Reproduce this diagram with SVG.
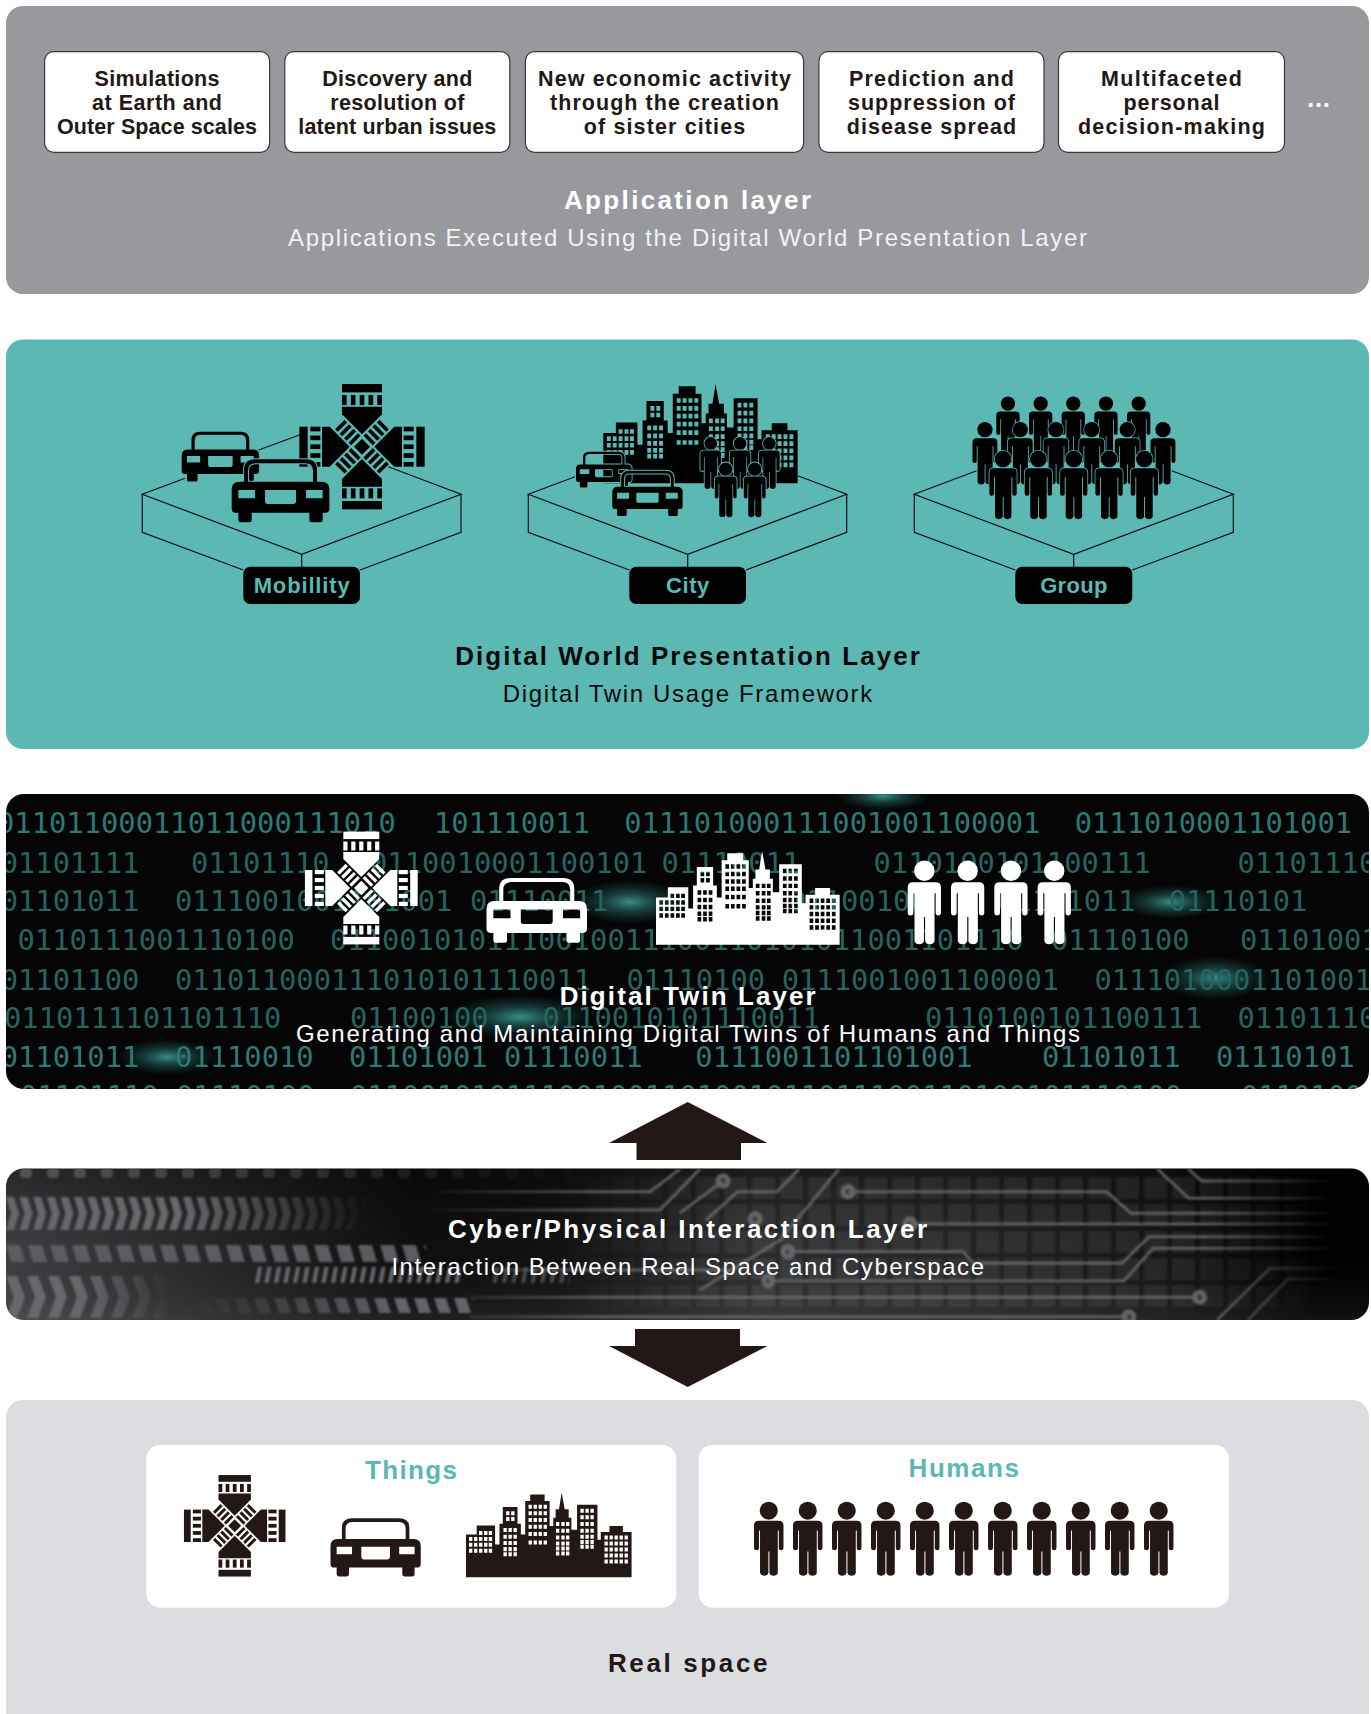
<svg xmlns="http://www.w3.org/2000/svg" width="1371" height="1714" viewBox="0 0 1371 1714">
<style>
text{font-family:"Liberation Sans",Arial,sans-serif;text-anchor:middle}
.b{font-weight:700}
.box{fill:#fff;stroke:#3a3a3c;stroke-width:1.2}
.bt{font-size:21.5px;font-weight:700;fill:#231815}
.plat{fill:none;stroke:#111;stroke-width:1.2}
.lab{font-size:22px;font-weight:700;fill:#5bb8b2}
.ttl{font-size:26px;font-weight:700}
.sub{font-size:24px}
.w{fill:#fff}
.k{fill:#000}
.dk{fill:#231815}
.d{font-family:"DejaVu Sans Mono","Liberation Mono",monospace;font-size:28.8px;text-anchor:start;fill:#2d7a74}
.d2{fill:#25645f}
.cl{fill:none;stroke:#6f7073;stroke-width:2.6}
.nd{fill:none;stroke:#6f7073;stroke-width:5}
.hl{stroke:#5bb8b2;paint-order:stroke}
</style>
<defs>
<filter id="soft" x="-5%" y="-20%" width="110%" height="140%"><feGaussianBlur stdDeviation=".8"/></filter>
<g id="car"><path fill-rule="evenodd" d="M37 67V32Q37 0 70 0H223Q256 0 256 32V67H270Q293 67 293 90V148Q293 160 281 160H273V182Q273 189 266 189H240Q233 189 233 182V160H60V182Q60 189 53 189H27Q20 189 20 182V160H12Q0 160 0 148V90Q0 67 23 67ZM49 67H244V34Q244 12 221 12H72Q49 12 49 34ZM20 92V117H70V92ZM223 92V117H273V92ZM100 92V126Q100 134 108 134H185Q193 134 193 126V92Z"/></g>
<g id="person"><circle cx="44" cy="26" r="27"/><path d="M14 56H74Q88 56 88 70V137A7 7 0 0 1 74 137V85H71V212A13 11 0 0 1 46 212V148H43V212A13 11 0 0 1 18 212V85H15V137A7.5 7 0 0 1 0 137V70Q0 56 14 56Z"/></g>
<g id="arm"><rect x="-60" y="-188" width="120" height="25"/><rect x="-60" y="-155" width="14" height="30"/><rect x="-33.5" y="-155" width="14" height="30"/><rect x="-7" y="-155" width="14" height="30"/><rect x="19.5" y="-155" width="14" height="30"/><rect x="46" y="-155" width="14" height="30"/><polygon points="-60,-120 60,-120 60,-97 0,-37 -60,-97"/><g transform="rotate(45)"><rect x="-20" y="-94" width="40" height="11"/><rect x="-20" y="-75" width="40" height="11"/><rect x="-20" y="-56" width="40" height="11"/><rect x="-20" y="-37" width="40" height="11"/></g></g>
<g id="cross"><use href="#arm"/><use href="#arm" transform="rotate(90)"/><use href="#arm" transform="rotate(180)"/><use href="#arm" transform="rotate(270)"/><rect x="-17" y="-17" width="34" height="34" transform="rotate(45)"/></g>
<g id="city"><path transform="translate(-18 -22)" fill-rule="evenodd" d="M18 275V147H50V120H105V177H118V115H128V65H172V115H182V147H195V47H210V28H253V47H268V122H279V97H286V72H296L304 22L313 72H325V97H333V133H350V58H411V163H421V140H447V122H487V140H513V275Z
M57 137h10v12h-10zM72 137h10v12h-10zM86 137h10v12h-10zM27 155h10v12h-10zM42 155h10v12h-10zM57 155h10v12h-10zM72 155h10v12h-10zM86 155h10v12h-10zM27 172h10v12h-10zM42 172h10v12h-10zM57 172h10v12h-10zM72 172h10v12h-10zM86 172h10v12h-10zM27 190h10v12h-10zM42 190h10v12h-10zM57 190h10v12h-10zM72 190h10v12h-10zM86 190h10v12h-10z
M138 78h10v12h-10zM153 78h10v12h-10zM138 95h10v12h-10zM153 95h10v12h-10z
M130 128h10v12h-10zM145 128h10v12h-10zM160 128h10v12h-10zM130 148h10v12h-10zM145 148h10v12h-10zM160 148h10v12h-10zM130 167h10v12h-10zM145 167h10v12h-10zM160 167h10v12h-10zM130 185h10v12h-10zM145 185h10v12h-10zM160 185h10v12h-10zM130 200h10v12h-10zM145 200h10v12h-10zM160 200h10v12h-10z
M205 58h10v12h-10zM220 58h10v12h-10zM235 58h10v12h-10zM250 58h10v12h-10zM205 78h10v12h-10zM220 78h10v12h-10zM235 78h10v12h-10zM250 78h10v12h-10zM205 98h10v12h-10zM220 98h10v12h-10zM235 98h10v12h-10zM250 98h10v12h-10zM205 118h10v12h-10zM220 118h10v12h-10zM235 118h10v12h-10zM250 118h10v12h-10zM205 140h10v12h-10zM220 140h10v12h-10zM235 140h10v12h-10zM250 140h10v12h-10zM205 165h10v12h-10zM220 165h10v12h-10zM235 165h10v12h-10zM250 165h10v12h-10z
M287 110h10v12h-10zM303 110h10v12h-10zM317 110h10v12h-10zM287 130h10v12h-10zM303 130h10v12h-10zM317 130h10v12h-10zM287 150h10v12h-10zM303 150h10v12h-10zM317 150h10v12h-10zM287 168h10v12h-10zM303 168h10v12h-10zM317 168h10v12h-10zM287 183h10v12h-10zM303 183h10v12h-10zM317 183h10v12h-10zM287 198h10v12h-10zM303 198h10v12h-10zM317 198h10v12h-10z
M360 70h10v12h-10zM375 70h10v12h-10zM390 70h10v12h-10zM360 90h10v12h-10zM375 90h10v12h-10zM390 90h10v12h-10zM360 110h10v12h-10zM375 110h10v12h-10zM390 110h10v12h-10zM360 130h10v12h-10zM375 130h10v12h-10zM390 130h10v12h-10zM360 148h10v12h-10zM375 148h10v12h-10zM390 148h10v12h-10zM360 164h10v12h-10zM375 164h10v12h-10zM390 164h10v12h-10zM360 178h10v12h-10zM375 178h10v12h-10zM390 178h10v12h-10z
M432 150h10v12h-10zM447 150h10v12h-10zM462 150h10v12h-10zM477 150h10v12h-10zM492 150h10v12h-10zM432 168h10v12h-10zM447 168h10v12h-10zM462 168h10v12h-10zM477 168h10v12h-10zM492 168h10v12h-10zM432 186h10v12h-10zM447 186h10v12h-10zM462 186h10v12h-10zM477 186h10v12h-10zM492 186h10v12h-10zM432 204h10v12h-10zM447 204h10v12h-10zM462 204h10v12h-10zM477 204h10v12h-10zM492 204h10v12h-10zM432 222h10v12h-10zM447 222h10v12h-10zM462 222h10v12h-10zM477 222h10v12h-10zM492 222h10v12h-10z"/></g>
<clipPath id="twinClip"><rect x="6" y="794" width="1363" height="295" rx="18"/></clipPath>
<clipPath id="cyberClip"><rect x="6" y="1168.5" width="1363" height="151.5" rx="18"/></clipPath>
<radialGradient id="glow"><stop offset="0" stop-color="#3fa79f" stop-opacity=".85"/><stop offset=".45" stop-color="#2c7c76" stop-opacity=".45"/><stop offset="1" stop-color="#1d5e59" stop-opacity="0"/></radialGradient>
<linearGradient id="cyb" gradientUnits="userSpaceOnUse" x1="6" y1="0" x2="1369" y2="0"><stop offset="0" stop-color="#3d3e41"/><stop offset=".12" stop-color="#2c2c2e"/><stop offset=".3" stop-color="#0e0e0f"/><stop offset=".4" stop-color="#111112"/><stop offset=".55" stop-color="#2c2c2e"/><stop offset=".72" stop-color="#232325"/><stop offset=".85" stop-color="#151516"/><stop offset=".96" stop-color="#000"/></linearGradient>
<linearGradient id="cybv" x1="0" y1="0" x2="0" y2="1"><stop offset="0" stop-color="#000" stop-opacity=".35"/><stop offset=".5" stop-color="#000" stop-opacity="0"/><stop offset="1" stop-color="#fff" stop-opacity=".07"/></linearGradient>
<pattern id="pDots" patternUnits="userSpaceOnUse" x="20" y="1168" width="27" height="12"><rect width="12" height="10" rx="4" fill="#77787b"/></pattern>
<pattern id="pCh1" patternUnits="userSpaceOnUse" x="6" y="1197" width="13.6" height="33"><polygon points="0,0 8,0 13,16.5 8,33 0,33 5,16.5" fill="#66676b"/></pattern>
<pattern id="pPar1" patternUnits="userSpaceOnUse" x="6" y="1245" width="22" height="17"><polygon points="0,0 14,0 19,17 5,17" fill="#5b5c60"/></pattern>
<pattern id="pSl" patternUnits="userSpaceOnUse" x="255" y="1267" width="9.5" height="16"><polygon points="3,0 7,0 4,16 0,16" fill="#6a6b6f"/></pattern>
<pattern id="pCh2" patternUnits="userSpaceOnUse" x="6" y="1276" width="21" height="42"><polygon points="0,0 11,0 19,21 11,42 0,42 8,21" fill="#66676b"/></pattern>
<pattern id="pPar2" patternUnits="userSpaceOnUse" x="194" y="1298" width="20" height="15"><polygon points="0,0 12,0 17,15 5,15" fill="#63646a"/></pattern>
<pattern id="pGrid" patternUnits="userSpaceOnUse" x="640" y="1177" width="28" height="27"><rect width="23" height="22" fill="#fff" fill-opacity=".07"/></pattern>
<linearGradient id="fD" gradientUnits="userSpaceOnUse" x1="20" y1="0" x2="600" y2="0"><stop offset="0" stop-color="#fff" stop-opacity=".55"/><stop offset="1" stop-color="#fff" stop-opacity="0"/></linearGradient>
<linearGradient id="fA" gradientUnits="userSpaceOnUse" x1="180" y1="0" x2="370" y2="0"><stop offset="0" stop-color="#fff"/><stop offset="1" stop-color="#fff" stop-opacity="0"/></linearGradient>
<linearGradient id="fB" gradientUnits="userSpaceOnUse" x1="80" y1="0" x2="170" y2="0"><stop offset="0" stop-color="#fff"/><stop offset="1" stop-color="#fff" stop-opacity="0"/></linearGradient>
<linearGradient id="fC" gradientUnits="userSpaceOnUse" x1="194" y1="0" x2="400" y2="0"><stop offset="0" stop-color="#fff" stop-opacity="0"/><stop offset="1" stop-color="#fff"/></linearGradient>
<linearGradient id="fG" gradientUnits="userSpaceOnUse" x1="560" y1="0" x2="1330" y2="0"><stop offset="0" stop-color="#fff" stop-opacity="0"/><stop offset=".25" stop-color="#fff"/><stop offset=".8" stop-color="#fff"/><stop offset="1" stop-color="#fff" stop-opacity="0"/></linearGradient>
<linearGradient id="fL" gradientUnits="userSpaceOnUse" x1="420" y1="0" x2="1340" y2="0"><stop offset="0" stop-color="#fff" stop-opacity="0"/><stop offset=".2" stop-color="#fff" stop-opacity=".85"/><stop offset=".85" stop-color="#fff" stop-opacity=".85"/><stop offset="1" stop-color="#fff" stop-opacity="0"/></linearGradient>
<mask id="mD" maskUnits="userSpaceOnUse" x="0" y="1160" width="1371" height="170"><rect y="1160" width="1371" height="170" fill="url(#fD)"/></mask>
<mask id="mA" maskUnits="userSpaceOnUse" x="0" y="1160" width="1371" height="170"><rect y="1160" width="1371" height="170" fill="url(#fA)"/></mask>
<mask id="mB" maskUnits="userSpaceOnUse" x="0" y="1160" width="1371" height="170"><rect y="1160" width="1371" height="170" fill="url(#fB)"/></mask>
<mask id="mC" maskUnits="userSpaceOnUse" x="0" y="1160" width="1371" height="170"><rect y="1160" width="1371" height="170" fill="url(#fC)"/></mask>
<mask id="mG" maskUnits="userSpaceOnUse" x="0" y="1160" width="1371" height="170"><rect y="1160" width="1371" height="170" fill="url(#fG)"/></mask>
<mask id="mL" maskUnits="userSpaceOnUse" x="0" y="1160" width="1371" height="170"><rect y="1160" width="1371" height="170" fill="url(#fL)"/></mask>
</defs>
<rect width="1371" height="1714" fill="#fff"/>

<g id="application-layer">
<rect x="6" y="6" width="1363" height="288" rx="17" fill="#98999d"/>
<g id="app-simulations"><rect class="box" x="44.6" y="51.7" width="225" height="100.6" rx="9"/>
<text class="bt" x="157" y="85.7" textLength="125">Simulations</text><text class="bt" x="157" y="110" textLength="130">at Earth and</text><text class="bt" x="157" y="133.6" textLength="200">Outer Space scales</text></g>
<g id="app-discovery"><rect class="box" x="284.8" y="51.7" width="225" height="100.6" rx="9"/>
<text class="bt" x="397.3" y="85.7" textLength="150">Discovery and</text><text class="bt" x="397.3" y="110" textLength="134">resolution of</text><text class="bt" x="397.3" y="133.6" textLength="198">latent urban issues</text></g>
<g id="app-economic"><rect class="box" x="525.4" y="51.7" width="278.2" height="100.6" rx="9"/>
<text class="bt" x="664.5" y="85.7" textLength="253">New economic activity</text><text class="bt" x="664.5" y="110" textLength="229">through the creation</text><text class="bt" x="664.5" y="133.6" textLength="161.5">of sister cities</text></g>
<g id="app-disease"><rect class="box" x="818.9" y="51.7" width="225.1" height="100.6" rx="9"/>
<text class="bt" x="931.5" y="85.7" textLength="165">Prediction and</text><text class="bt" x="931.5" y="110" textLength="167">suppression of</text><text class="bt" x="931.5" y="133.6" textLength="169.5">disease spread</text></g>
<g id="app-decision"><rect class="box" x="1058.5" y="51.7" width="226" height="100.6" rx="9"/>
<text class="bt" x="1171.5" y="85.7" textLength="141">Multifaceted</text><text class="bt" x="1171.5" y="110" textLength="96">personal</text><text class="bt" x="1171.5" y="133.6" textLength="187">decision-making</text></g>
<text class="w b" x="1318.5" y="107" font-size="26" textLength="23">...</text>
<text class="ttl w" x="687.5" y="209" textLength="247">Application layer</text>
<text class="sub" fill="#f2f2f2" x="687.5" y="246" textLength="799">Applications Executed Using the Digital World Presentation Layer</text>
</g>

<g id="digital-world-layer">
<rect x="6" y="339.5" width="1363" height="409.5" rx="17" fill="#5bb8b2"/>
<g id="dw-mobility" class="k">
<path class="plat" d="M185 478.3L142.3 494.3L301.7 554.3L461 494.3L388.3 466.7M142.3 494.3V532.3L243.3 570M461 494.3V532.3L360 570M301.7 554.3V567M256.7 450.7L300 434.7"/>
<use href="#cross" transform="translate(362 446.7) scale(.3333)"/>
<use href="#car" class="hl" stroke-width="8" transform="translate(181.7 431.7) scale(.264)"/>
<use href="#car" class="hl" stroke-width="6" transform="translate(231.7 459.3) scale(.3333)"/>
<rect x="243.3" y="566.7" width="116.7" height="37.3" rx="7"/>
<text class="lab" x="301.7" y="593.3" textLength="96">Mobillity</text>
</g>
<g id="dw-city" class="k">
<path class="plat" d="M575 476.7L528.3 494.3L687.7 554.3L846.7 494.3L797.7 475.7M528.3 494.3V532.3L629.3 570M846.7 494.3V532.3L746 570M687.7 554.3V567"/>
<use href="#city" transform="translate(603.3 384) scale(.3926)"/>
<use href="#car" class="hl" stroke-width="9" transform="translate(576 451.7) scale(.19)"/>
<use href="#car" class="hl" stroke-width="8" transform="translate(612.3 470.7) scale(.24)"/>
<use href="#person" class="hl" stroke-width="7" transform="translate(700.4 437.3) scale(.235)"/>
<use href="#person" class="hl" stroke-width="7" transform="translate(729.7 437.3) scale(.235)"/>
<use href="#person" class="hl" stroke-width="7" transform="translate(759 437.3) scale(.235)"/>
<use href="#person" class="hl" stroke-width="7" transform="translate(714.8 462.7) scale(.248)"/>
<use href="#person" class="hl" stroke-width="7" transform="translate(743.8 462.7) scale(.248)"/>
<rect x="629.3" y="566.7" width="116.7" height="37.3" rx="7"/>
<text class="lab" x="687.7" y="593.3" textLength="43.3">City</text>
</g>
<g id="dw-group" class="k">
<path class="plat" d="M976.7 470.7L914.3 494.3L1073.7 554.3L1233.3 494.3L1171.7 470.7M914.3 494.3V532.3L1015.3 570M1233.3 494.3V532.3L1132.3 570M1073.7 554.3V567"/>
<use href="#person" transform="translate(996.3 396.7) scale(.265)"/>
<use href="#person" transform="translate(1029 396.7) scale(.265)"/>
<use href="#person" transform="translate(1061.6 396.7) scale(.265)"/>
<use href="#person" transform="translate(1094.3 396.7) scale(.265)"/>
<use href="#person" transform="translate(1127 396.7) scale(.265)"/>
<use href="#person" class="hl" stroke-width="5" transform="translate(972.5 422.3) scale(.283)"/>
<use href="#person" class="hl" stroke-width="5" transform="translate(1007.8 422.3) scale(.283)"/>
<use href="#person" class="hl" stroke-width="5" transform="translate(1043.5 422.3) scale(.283)"/>
<use href="#person" class="hl" stroke-width="5" transform="translate(1079.2 422.3) scale(.283)"/>
<use href="#person" class="hl" stroke-width="5" transform="translate(1114.8 422.3) scale(.283)"/>
<use href="#person" class="hl" stroke-width="5" transform="translate(1150.5 422.3) scale(.283)"/>
<use href="#person" class="hl" stroke-width="5" transform="translate(989.4 451) scale(.31)"/>
<use href="#person" class="hl" stroke-width="5" transform="translate(1024.7 451) scale(.31)"/>
<use href="#person" class="hl" stroke-width="5" transform="translate(1060.1 451) scale(.31)"/>
<use href="#person" class="hl" stroke-width="5" transform="translate(1095.4 451) scale(.31)"/>
<use href="#person" class="hl" stroke-width="5" transform="translate(1130.7 451) scale(.31)"/>
<rect x="1015.3" y="566.7" width="117" height="37.3" rx="7"/>
<text class="lab" x="1073.8" y="592.9" textLength="67.3">Group</text>
</g>
<text class="ttl" fill="#0a0a0a" x="687.5" y="665" textLength="464.6">Digital World Presentation Layer</text>
<text class="sub" fill="#0a0a0a" x="687.5" y="702" textLength="369.5">Digital Twin Usage Framework</text>
</g>

<g id="digital-twin-layer">
<rect x="6" y="794" width="1363" height="295" rx="18" fill="#050505"/>
<g clip-path="url(#twinClip)">
<ellipse cx="630" cy="902" rx="60" ry="22" fill="url(#glow)"/>
<ellipse cx="520" cy="1017" rx="75" ry="22" fill="url(#glow)"/>
<ellipse cx="167" cy="1057" rx="50" ry="18" fill="url(#glow)"/>
<ellipse cx="1171" cy="902" rx="52" ry="17" fill="url(#glow)"/>
<ellipse cx="1215" cy="978" rx="55" ry="22" fill="url(#glow)"/>
<ellipse cx="883" cy="796" rx="48" ry="14" fill="url(#glow)"/>
<text class="d" y="833"><tspan x="-3">01101100011011000111010</tspan><tspan x="434">101110011</tspan><tspan x="624.3">011101000111001001100001</tspan><tspan x="1074.7">0111010001101001</tspan></text>
<text class="d d2" y="872.6"><tspan x="0.7">01101111</tspan><tspan x="191">01101110</tspan><tspan x="370">0110010001100101</tspan><tspan x="661.5">01110011</tspan><tspan x="873.5">0110100101100111</tspan><tspan x="1237.6">01101110</tspan></text>
<text class="d d2" y="911"><tspan x="0.7">01101011</tspan><tspan x="175">0111001001101001</tspan><tspan x="470">01110011</tspan><tspan x="789">01100100</tspan><tspan x="997">01101011</tspan><tspan x="1168.7">01110101</tspan></text>
<text class="d d2" y="950"><tspan x="17.5">0110111001110100</tspan><tspan x="330">0110010101110010011100110101011001101110</tspan><tspan x="1051">01110100</tspan><tspan x="1240">01101001</tspan></text>
<text class="d d2" y="989.6"><tspan x="0.7">01101100</tspan><tspan x="175">011011000111010101110011</tspan><tspan x="626.5">01110100</tspan><tspan x="781.7">0111001001100001</tspan><tspan x="1094.4">0111010001101001</tspan></text>
<text class="d d2" y="1028"><tspan x="4">0110111101101110</tspan><tspan x="350">01100100</tspan><tspan x="542.5">0110010101110011</tspan><tspan x="925">0110100101100111</tspan><tspan x="1237.6">01101110</tspan></text>
<text class="d" y="1067"><tspan x="0.7">01101011</tspan><tspan x="175">01110010</tspan><tspan x="349">01101001</tspan><tspan x="504">01110011</tspan><tspan x="695.3">0111001101101001</tspan><tspan x="1042">01101011</tspan><tspan x="1216">01110101</tspan></text>
<text class="d" y="1106"><tspan x="20">01101110</tspan><tspan x="176">01110100</tspan><tspan x="350">011001010111001001101001011011100110100101110100</tspan><tspan x="1241">01101001</tspan></text>
</g>
<g id="twin-icons" class="w">
<use href="#cross" transform="translate(361.3 888) scale(.3)"/>
<use href="#car" transform="translate(486.5 878) scale(.343)"/>
<use href="#city" transform="translate(656 851) scale(.371)"/>
<use href="#person" transform="translate(907.7 861) scale(.378)"/>
<use href="#person" transform="translate(951 861) scale(.378)"/>
<use href="#person" transform="translate(994.3 861) scale(.378)"/>
<use href="#person" transform="translate(1037.6 861) scale(.378)"/>
</g>
<text class="ttl w" x="687.7" y="1005" textLength="256">Digital Twin Layer</text>
<text class="sub w" x="688" y="1042" textLength="784">Generating and Maintaining Digital Twins of Humans and Things</text>
</g>

<g id="connectors">
<polygon id="arrow-up" class="dk" points="687.7,1102 767.5,1143 741,1143 741,1160 636.5,1160 636.5,1143 609,1143"/>
<polygon id="arrow-down" class="dk" points="687.7,1387 767.5,1346 740,1346 740,1329 635,1329 635,1346 609,1346"/>
</g>

<g id="cyber-physical-layer">
<rect x="6" y="1168.5" width="1363" height="151.5" rx="18" fill="url(#cyb)"/>
<g clip-path="url(#cyberClip)">
<rect x="6" y="1168.5" width="1363" height="151.5" fill="url(#cybv)"/>
<g filter="url(#soft)">
<rect x="560" y="1177" width="780" height="135" fill="url(#pGrid)" mask="url(#mG)"/>
<rect x="20" y="1168" width="620" height="10" fill="url(#pDots)" mask="url(#mD)"/>
<rect x="6" y="1197" width="364" height="33" fill="url(#pCh1)" mask="url(#mA)"/>
<rect x="6" y="1245" width="420" height="17" fill="url(#pPar1)"/>
<rect x="255" y="1267" width="205" height="16" fill="url(#pSl)"/>
<rect x="490" y="1267" width="80" height="16" fill="url(#pSl)" opacity=".6"/>
<rect x="6" y="1276" width="165" height="42" fill="url(#pCh2)" mask="url(#mB)"/>
<rect x="194" y="1298" width="281" height="15" fill="url(#pPar2)" mask="url(#mC)"/>
<g mask="url(#mL)">
<path class="cl" d="M848 1191.7H1106.6L1131 1213.3H1330M910 1224H1330M788 1251.7H963L974 1263.3H1122L1149 1236.7H1330M768.4 1281H1124L1153 1248.3H1330M470 1297.3H1199.5M470 1316.7H1128.7M1157.5 1169L1188.4 1198.3H1330M1188.4 1169L1201.6 1181H1330M1217 1320L1270 1268.3H1340M1248 1320L1288 1279H1340M839 1169L780 1240L700 1290M440 1191.7H650L680 1169M420 1210H660L700 1169M799 1169L777 1191.7H737.5L706 1220M723 1181L680 1213M500 1270H730"/>
<circle class="nd" cx="848" cy="1191.7" r="5"/><circle class="nd" cx="910" cy="1224" r="5"/><circle class="nd" cx="788" cy="1251.7" r="5"/><circle class="nd" cx="768.4" cy="1281" r="4.5"/><circle class="nd" cx="1199.5" cy="1297.3" r="5"/><circle class="nd" cx="1128.7" cy="1316.7" r="5"/><circle class="nd" cx="723" cy="1181" r="5"/><circle class="nd" cx="755" cy="1219" r="5"/>
</g>
</g>
</g>
<text class="ttl w" x="687.5" y="1237.6" textLength="479">Cyber/Physical Interaction Layer</text>
<text class="sub w" x="687.7" y="1275" textLength="592.6">Interaction Between Real Space and Cyberspace</text>
</g>

<g id="real-space-layer">
<rect x="6" y="1400" width="1363" height="330" rx="17" fill="#dcdde1"/>
<g id="things" class="dk">
<rect x="146.3" y="1445" width="530" height="162.7" rx="14" fill="#fff"/>
<text class="ttl" style="fill:#5bb8b2" x="411" y="1479" textLength="92">Things</text>
<use href="#cross" transform="translate(234.7 1525.8) scale(.27)"/>
<use href="#car" transform="translate(330.5 1518.3) scale(.308)"/>
<use href="#city" transform="translate(466 1492.6) scale(.3345)"/>
</g>
<g id="humans" class="dk">
<rect x="698.6" y="1445" width="530.4" height="162.7" rx="14" fill="#fff"/>
<text class="ttl" style="fill:#5bb8b2" x="963.8" y="1477" textLength="110.5">Humans</text>
<use href="#person" transform="translate(754 1502) scale(.335)"/>
<use href="#person" transform="translate(793 1502) scale(.335)"/>
<use href="#person" transform="translate(832 1502) scale(.335)"/>
<use href="#person" transform="translate(871 1502) scale(.335)"/>
<use href="#person" transform="translate(910 1502) scale(.335)"/>
<use href="#person" transform="translate(949 1502) scale(.335)"/>
<use href="#person" transform="translate(988 1502) scale(.335)"/>
<use href="#person" transform="translate(1027 1502) scale(.335)"/>
<use href="#person" transform="translate(1066 1502) scale(.335)"/>
<use href="#person" transform="translate(1105 1502) scale(.335)"/>
<use href="#person" transform="translate(1144 1502) scale(.335)"/>
</g>
<text class="ttl dk" x="687.7" y="1672" textLength="159.6">Real space</text>
</g>
</svg>
